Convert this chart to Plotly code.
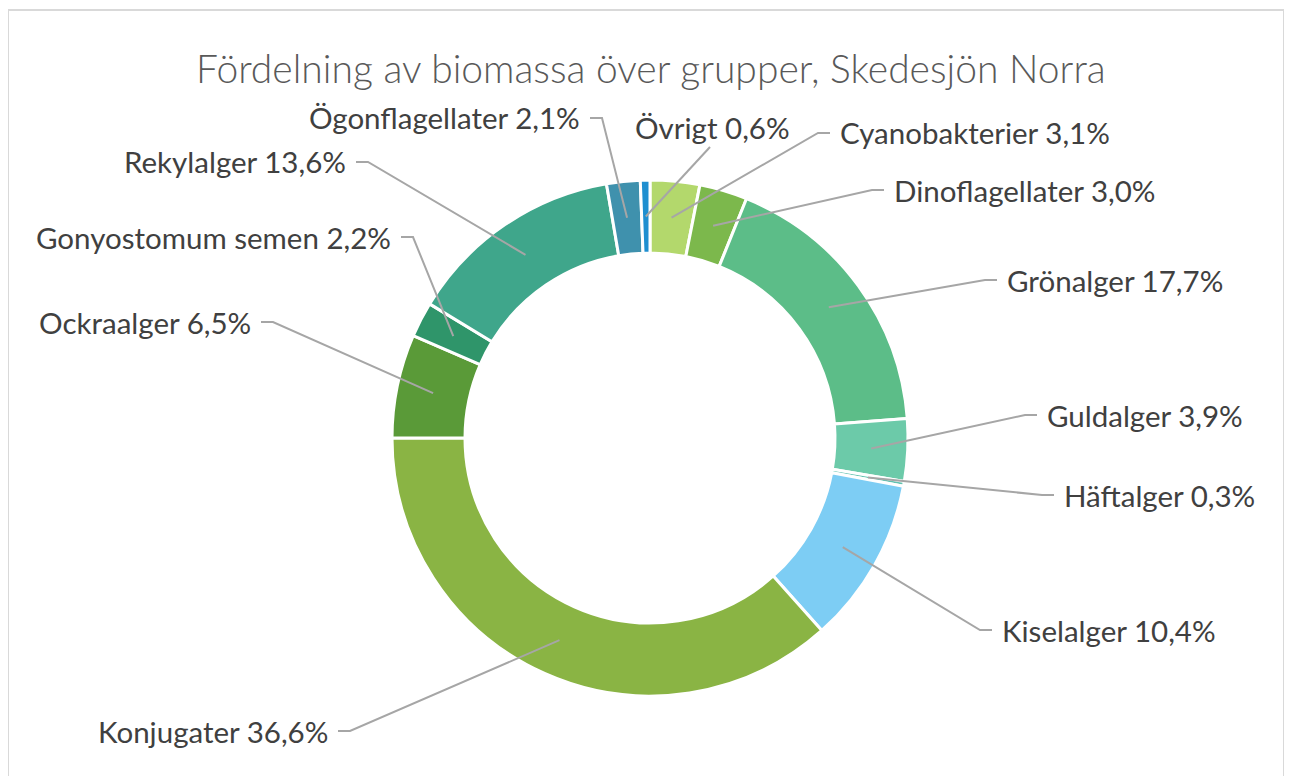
import math
import plotly.graph_objects as go

# ---- data ----
labels = ["Cyanobakterier", "Dinoflagellater", "Grönalger", "Guldalger", "Häftalger",
          "Kiselalger", "Konjugater", "Ockraalger", "Gonyostomum semen", "Rekylalger",
          "Ögonflagellater", "Övrigt"]
values = [3.1, 3.0, 17.7, 3.9, 0.3, 10.4, 36.6, 6.5, 2.2, 13.6, 2.1, 0.6]
pct_text = ["3,1%", "3,0%", "17,7%", "3,9%", "0,3%", "10,4%", "36,6%", "6,5%",
            "2,2%", "13,6%", "2,1%", "0,6%"]
title = "Fördelning av biomassa över grupper, Skedesjön Norra"

# ---- styles / layout ----
colors = ["#b3d86c", "#7cb84c", "#5cbd88", "#6ccaa9", "#62c2b0", "#7dcdf4",
          "#8ab444", "#5a9a38", "#2f956a", "#3fa68b", "#3f91ad", "#1f8fd0"]
W, H = 1292, 776
OFF = 8  # page body margin
cx, cy, R_out, R_in = 650, 438, 258, 185
# label text anchor (px, page coords) and side
label_pos = [
    (838, 133, "left"),
    (892, 190, "left"),
    (1005, 280, "left"),
    (1045, 415, "left"),
    (1062, 495, "left"),
    (1000, 630, "left"),
    (330, 731, "right"),
    (253, 322, "right"),
    (393, 237, "right"),
    (348, 162, "right"),
    (582, 118, "right"),
    (633, 127, "left"),
]
label_font = dict(family="Lato, Open Sans, sans-serif", size=29.5, color="#404040")

def px2paper(x, y):
    return (x - OFF) / W, 1 - (y - OFF) / H

fig = go.Figure()
d0 = px2paper(cx - R_out, cy + R_out)
d1 = px2paper(cx + R_out, cy - R_out)
fig.add_trace(go.Pie(
    labels=labels, values=values, sort=False, direction="clockwise", rotation=0,
    hole=R_in / R_out, textinfo="none", hoverinfo="label+percent",
    marker=dict(colors=colors, line=dict(color="white", width=3)),
    domain=dict(x=[d0[0], d1[0]], y=[d0[1], d1[1]]),
    showlegend=False,
))

total = sum(values)
cum = 0.0
shapes = []
annotations = []
r_mid = (R_out + R_in) / 2
for i, v in enumerate(values):
    mid = (cum + v / 2) / total * 2 * math.pi
    cum += v
    ax_ = cx + r_mid * math.sin(mid)
    ay_ = cy - r_mid * math.cos(mid)
    tx, ty, side = label_pos[i]
    p2 = px2paper(ax_, ay_)
    if labels[i] == "Övrigt":
        p0 = px2paper(710, 147)
        path = f"M {p0[0]} {p0[1]} L {p2[0]} {p2[1]}"
    else:
        if side == "left":
            p0 = px2paper(tx - 8, ty)
            p1 = px2paper(tx - 20, ty)
        else:
            p0 = px2paper(tx + 8, ty)
            p1 = px2paper(tx + 20, ty)
        path = f"M {p0[0]} {p0[1]} L {p1[0]} {p1[1]} L {p2[0]} {p2[1]}"
    shapes.append(dict(type="path", xref="paper", yref="paper", path=path,
                       line=dict(color="#a6a6a6", width=2)))
    px_, py_ = px2paper(tx, ty)
    annotations.append(dict(
        x=px_, y=py_, xref="paper", yref="paper", showarrow=False,
        text=f"{labels[i]} {pct_text[i]}",
        xanchor="left" if side == "left" else "right", yanchor="middle",
        font=label_font,
    ))

b0 = px2paper(8, 10)
b1 = px2paper(1284, 800)
shapes.append(dict(type="rect", xref="paper", yref="paper",
                   x0=b0[0], x1=b1[0], y0=b1[1], y1=b0[1],
                   line=dict(color="#d9d9d9", width=2), layer="below"))

t = px2paper(651, 68)
annotations.append(dict(
    x=t[0], y=t[1], xref="paper", yref="paper", showarrow=False,
    text=title, xanchor="center", yanchor="middle",
    font=dict(family="Lato, Open Sans, sans-serif", size=39, color="#595959", weight=300),
))

fig.update_layout(
    width=W, height=H, margin=dict(l=0, r=0, t=0, b=0),
    paper_bgcolor="white", plot_bgcolor="white",
    shapes=shapes, annotations=annotations,
)
fig.write_html("out.html")
